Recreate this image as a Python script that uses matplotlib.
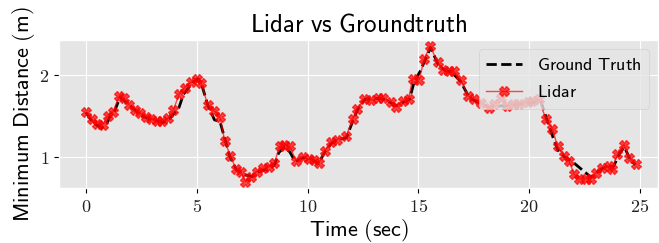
import matplotlib.pyplot as plt
import numpy as np

plt.style.use('ggplot')
plt.rcParams['mathtext.fontset'] = 'cm'

# lidar samples
t_lidar = [0.0, 0.26, 0.5, 0.75, 1.0, 1.23, 1.5, 1.72, 1.95, 2.2, 2.45, 2.7, 2.95, 3.2,
           3.45, 3.7, 3.95, 4.2, 4.45, 4.75, 5.0, 5.2, 5.5, 5.8, 6.05, 6.27, 6.52, 6.78,
           7.0, 7.2, 7.45, 7.7, 7.98, 8.25, 8.5, 8.74, 8.96, 9.2, 9.48, 9.78, 10.05,
           10.3, 10.5, 10.77, 11.07, 11.32, 11.74, 12.04, 12.22, 12.57, 12.87, 13.17,
           13.4, 13.77, 14.0, 14.29, 14.56, 14.74, 15.04, 15.27, 15.53, 15.87, 16.1,
           16.4, 16.62, 16.92, 17.25, 17.52, 17.82, 18.2, 18.42, 18.72, 19.02, 19.25,
           19.55, 19.93, 20.15, 20.45, 20.75, 21.05, 21.28, 21.58, 21.8, 22.03, 22.25,
           22.55, 22.78, 23.0, 23.3, 23.6, 23.75, 23.98, 24.28, 24.5, 24.8]
d_lidar = [1.54, 1.46, 1.40, 1.39, 1.50, 1.55, 1.74, 1.71, 1.63, 1.57, 1.53, 1.49, 1.46,
           1.44, 1.43, 1.47, 1.57, 1.76, 1.84, 1.91, 1.95, 1.90, 1.63, 1.56, 1.48, 1.19,
           1.01, 0.85, 0.81, 0.70, 0.75, 0.82, 0.86, 0.88, 0.92, 1.13, 1.14, 1.13, 0.95,
           1.00, 0.97, 0.96, 0.93, 1.07, 1.18, 1.21, 1.25, 1.46, 1.58, 1.70, 1.69, 1.71,
           1.71, 1.67, 1.61, 1.68, 1.70, 1.95, 1.94, 2.19, 2.35, 2.15, 2.06, 2.04, 2.04,
           1.93, 1.74, 1.70, 1.66, 1.60, 1.64, 1.72, 1.62, 1.64, 1.64, 1.67, 1.68, 1.70,
           1.46, 1.34, 1.13, 1.01, 0.95, 0.79, 0.73, 0.73, 0.73, 0.80, 0.87, 0.89, 0.85,
           1.03, 1.15, 0.99, 0.91]

# ground truth
t_gt = [0.0, 0.3, 0.7, 0.9, 1.1, 1.3, 1.55, 2.0, 2.5, 3.0, 3.5, 3.8, 4.2, 4.4, 4.8, 5.05,
        5.2, 5.5, 5.8, 6.05, 6.3, 6.5, 6.8, 7.2, 7.5, 7.8, 8.3, 8.5, 8.7, 8.95, 9.2, 9.45,
        9.8, 10.1, 10.5, 10.8, 11.1, 11.4, 11.75, 12.05, 12.3, 12.6, 13.2, 13.5, 14.0,
        14.3, 14.6, 14.8, 15.1, 15.55, 15.9, 16.2, 16.5, 16.9, 17.3, 17.8, 18.2, 18.7,
        19.0, 19.5, 20.2, 20.5, 20.8, 21.1, 21.3, 21.6, 22.0, 22.8, 23.0, 23.3, 23.6,
        23.8, 24.1, 24.3, 24.55, 24.8]
d_gt = [1.54, 1.42, 1.35, 1.38, 1.50, 1.56, 1.73, 1.62, 1.50, 1.45, 1.42, 1.47, 1.60, 1.76,
        1.90, 1.95, 1.90, 1.63, 1.45, 1.43, 1.19, 1.00, 0.84, 0.78, 0.76, 0.82, 0.86, 0.90,
        1.05, 1.12, 1.06, 0.94, 0.99, 0.98, 0.92, 1.07, 1.17, 1.21, 1.23, 1.44, 1.60, 1.70,
        1.71, 1.70, 1.62, 1.66, 1.70, 1.90, 2.05, 2.33, 2.12, 2.05, 2.03, 1.92, 1.72, 1.65,
        1.60, 1.62, 1.62, 1.64, 1.66, 1.70, 1.45, 1.22, 1.08, 1.00, 0.93, 0.75, 0.80, 0.86,
        0.88, 0.88, 1.05, 1.12, 0.97, 0.90]

fig = plt.figure(figsize=(6.59, 2.43), dpi=100)
ax = fig.add_axes([0.09, 0.226, 0.908, 0.609])
ax.plot(t_gt, d_gt, 'k--', lw=2, label=r'$\mathsf{Ground\ Truth}$')
ax.plot(t_lidar, d_lidar, color='red', marker='X', ms=7, lw=1, alpha=0.7,
        label=r'$\mathsf{Lidar}$')
ax.set_xlim(-1.2, 25.8)
ax.set_ylim(0.62, 2.42)
ax.set_xticks([0, 5, 10, 15, 20, 25])
ax.set_xticklabels(['$%d$' % v for v in [0, 5, 10, 15, 20, 25]], fontsize=13)
ax.set_yticks([1, 2])
ax.set_yticklabels(['$1$', '$2$'], fontsize=13)
ax.tick_params(colors='black', labelcolor='#222222')
ax.set_title(r'$\mathsf{Lidar\ vs\ Groundtruth}$', fontsize=18, color='black')
ax.set_xlabel(r'$\mathsf{Time\ (sec)}$', fontsize=16, color='black', labelpad=1)
ax.set_ylabel(r'$\mathsf{Minimum\ Distance\ (m)}$', fontsize=16, color='black', labelpad=2)
ax.legend(loc='upper right', fontsize=13)
fig.savefig('out.png', dpi=100)
